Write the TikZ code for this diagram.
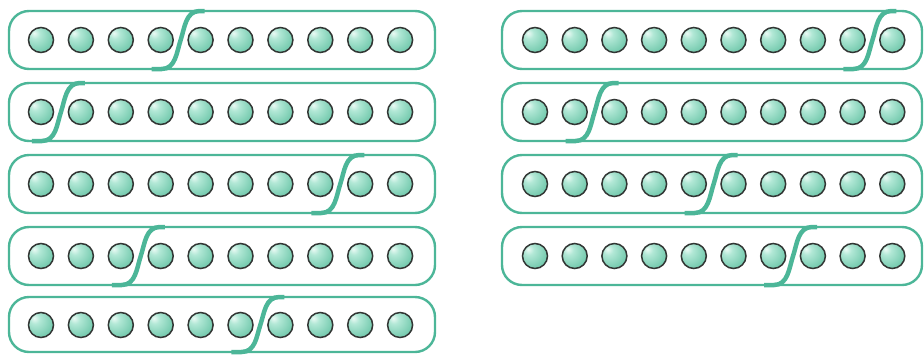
\documentclass[tikz,border=0pt]{standalone}
\definecolor{tealline}{RGB}{76,182,152}
\definecolor{beadline}{RGB}{50,54,52}
\definecolor{beadA}{RGB}{236,250,245}
\definecolor{beadB}{RGB}{178,232,214}
\definecolor{beadC}{RGB}{104,196,166}
\definecolor{beadD}{RGB}{62,160,128}
\pgfdeclareradialshading{beadshade}{\pgfpoint{-14bp}{14bp}}{color(0bp)=(beadA); color(10bp)=(beadB); color(38bp)=(beadC); color(66bp)=(beadD); color(80bp)=(beadD)}
\newcommand\cutS[3]{% #1 = x of cut, #2 = top, #3 = bottom
  \draw[cutline] ({#1-29},#3) -- ({#1-19},#3)
    .. controls ({#1-5},#3) and ({#1-4},{(#2+#3)/2+12}) .. ({#1},{(#2+#3)/2})
    .. controls ({#1+4},{(#2+#3)/2-12}) and ({#1+5},#2) .. ({#1+19},#2)
    -- ({#1+24},#2);}
\begin{document}
\begin{tikzpicture}[x=1pt,y=-1pt,
  strip/.style={draw=tealline, line width=2.4pt, rounded corners=20pt, minimum height=58pt, inner sep=0pt},
  bead/.style={circle, draw=beadline, line width=1.5pt, minimum size=25pt, inner sep=0pt, shading=beadshade},
  cutline/.style={draw=tealline, line width=4.5pt}]
\useasboundingbox (0,0) rectangle (924,354);
% left column
\foreach \r/\y/\k in {1/40/4, 2/112/1, 3/184/8, 4/256/3}{
  \node[strip, minimum width=426pt] (L\r) at (222,\y) {};
  \foreach \i in {1,...,10}
    \node[bead] (L\r-\i) at ({41+39.9*(\i-1)},\y) {};
  \cutS{41+39.9*(\k-0.5)}{\y-29}{\y+29}
}
\node[strip, minimum width=426pt, minimum height=55pt] (L5) at (222,324.5) {};
\foreach \i in {1,...,10}
  \node[bead] (L5-\i) at ({41+39.9*(\i-1)},325) {};
\cutS{41+39.9*5.5}{297}{352}
% right column
\foreach \r/\y/\k in {1/40/9, 2/112/2, 3/184/5, 4/256/7}{
  \node[strip, minimum width=420pt] (R\r) at (712,\y) {};
  \foreach \i in {1,...,10}
    \node[bead] (R\r-\i) at ({535+39.7*(\i-1)},\y) {};
  \cutS{535+39.7*(\k-0.5)}{\y-29}{\y+29}
}
\end{tikzpicture}
\end{document}
